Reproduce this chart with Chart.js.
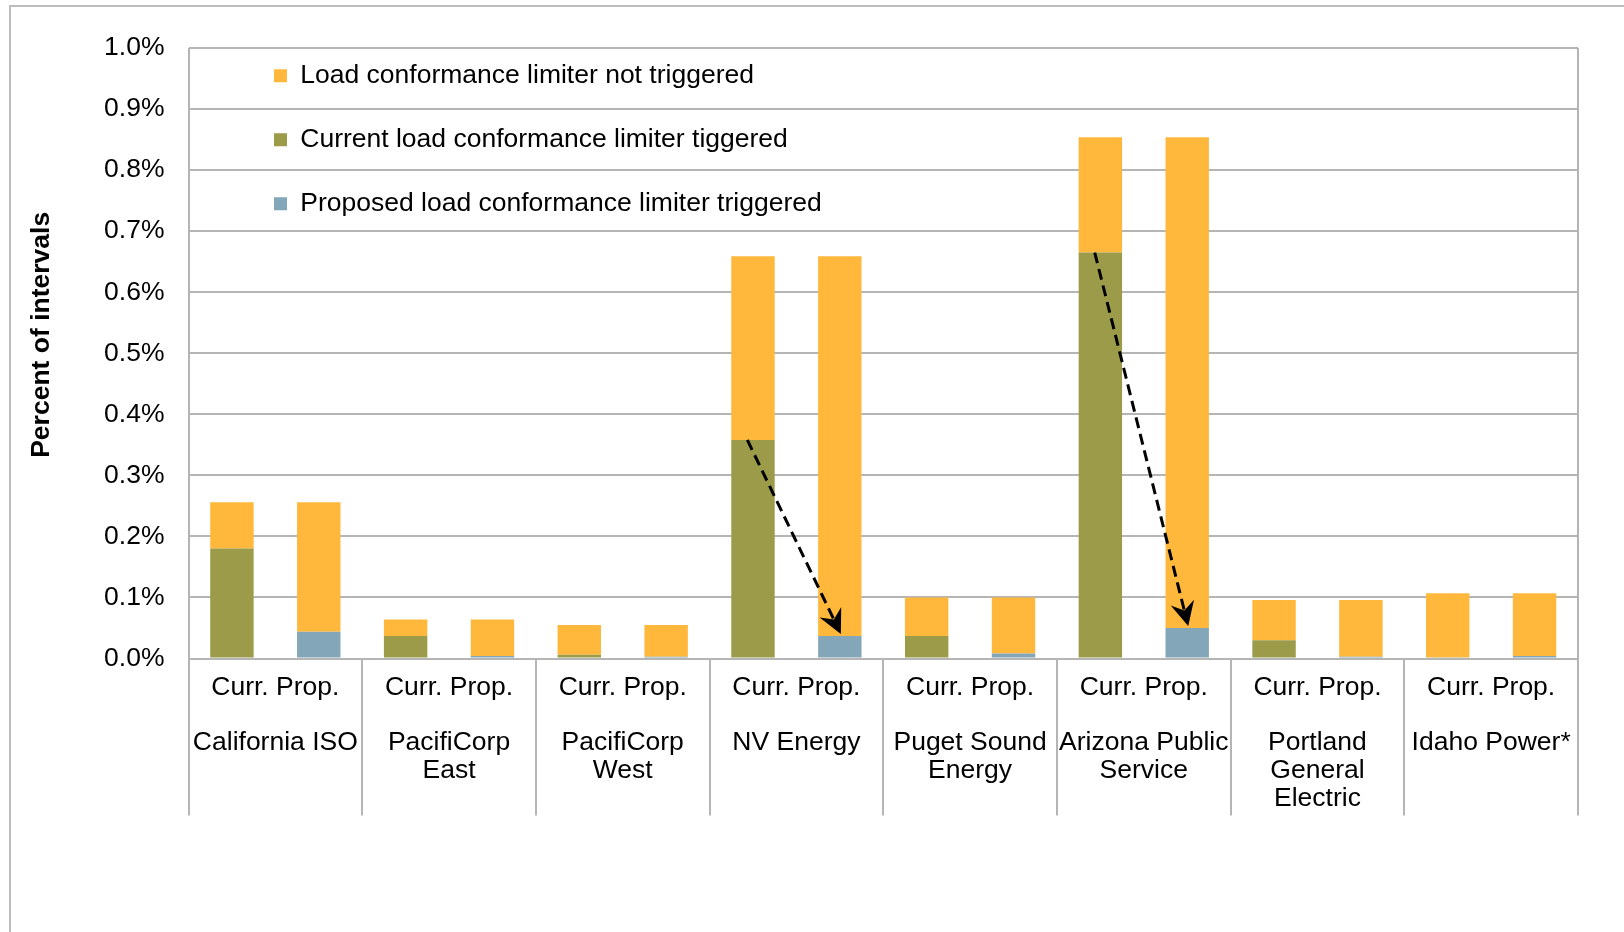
<!DOCTYPE html>
<html>
<head>
<meta charset="utf-8">
<script src="https://cdn.jsdelivr.net/npm/chart.js@4.4.1/dist/chart.umd.min.js"></script>
<style>
    html, body { margin: 0; padding: 0; background: #fff; }
    #frame { position: absolute; left: 9px; top: 5px; width: 1700px; height: 1000px; border-left: 2px solid #bdbdbd; border-top: 2px solid #bdbdbd; }
    #chart { position: absolute; left: 0; top: 0; }
</style>
</head>
<body>
<div id="frame"></div>
<canvas id="chart" width="1624" height="932"></canvas>
<script>
// ============================= data (percent of intervals)

const groupNames = [['California ISO'], ['PacifiCorp', 'East'], ['PacifiCorp', 'West'], ['NV Energy'],
    ['Puget Sound', 'Energy'], ['Arizona Public', 'Service'], ['Portland', 'General', 'Electric'], ['Idaho Power*']]
const pairLabel = 'Curr. Prop.'

const totals = [0.256, 0.064, 0.055, 0.659, 0.100, 0.854, 0.096, 0.107] // same height for both bars
const currTriggered = [0.180, 0.037, 0.006, 0.358, 0.037, 0.665, 0.030, 0.002]
const propTriggered = [0.044, 0.004, 0.003, 0.037, 0.008, 0.050, 0.003, 0.004]

const yMin = 0
const yMax = 1.0
const yStep = 0.1

const arrowGroups = [3, 5] // NV Energy, Arizona Public Service

const legendOrder = [1, 0, 2]

// ============================= styles

const ORANGE = '#FFB83C'
const GREEN = '#9C9B4A'
const BLUE = '#83A6B8'
const GRID = '#b5b5b5'

Chart.defaults.font.family = "'Liberation Sans', Arial, sans-serif"
Chart.defaults.color = '#000'

const notTriggered = (trig) => totals.map((t, i) => +(t - trig[i]).toFixed(3))

// ============================= plugins

const legendShift = { // moves the in-plot legend to where the original sits
    id: 'legendShift',
    afterLayout(chart) {
        chart.legend.left += 48
        chart.legend.top += 25
    }
}

const arrows = {
    id: 'arrows',
    afterDatasetsDraw(chart) {
        const ctx = chart.ctx
        const green = chart.getDatasetMeta(0).data
        const blue = chart.getDatasetMeta(2).data

        arrowGroups.forEach(i => {
            const x0 = green[i].x - green[i].width * 0.13, y0 = green[i].y
            const x1 = blue[i].x + 1, y1 = blue[i].y - 2
            const ang = Math.atan2(y1 - y0, x1 - x0)

            ctx.save()
            ctx.strokeStyle = '#000'
            ctx.lineWidth = 3
            ctx.setLineDash([11, 6])
            ctx.beginPath()
            ctx.moveTo(x0, y0)
            ctx.lineTo(x1 - 16 * Math.cos(ang), y1 - 16 * Math.sin(ang))
            ctx.stroke()

            ctx.setLineDash([])
            ctx.fillStyle = '#000'
            ctx.translate(x1, y1)
            ctx.rotate(ang)
            ctx.beginPath()
            ctx.moveTo(0, 0)
            ctx.lineTo(-24, -12)
            ctx.lineTo(-16, 0)
            ctx.lineTo(-24, 12)
            ctx.closePath()
            ctx.fill()
            ctx.restore()
        })
    }
}

// ============================= chart

new Chart(document.getElementById('chart'), {
    type: 'bar',
    data: {
        labels: groupNames.map(n => [pairLabel, '', ...n]),
        datasets: [
            { label: 'Current load conformance limiter tiggered', data: currTriggered, backgroundColor: GREEN, stack: 'curr' },
            { label: 'Load conformance limiter not triggered', data: notTriggered(currTriggered), backgroundColor: ORANGE, stack: 'curr' },
            { label: 'Proposed load conformance limiter triggered', data: propTriggered, backgroundColor: BLUE, stack: 'prop' },
            { label: 'Load conformance limiter not triggered', data: notTriggered(propTriggered), backgroundColor: ORANGE, stack: 'prop' }
        ]
    },
    options: {
        responsive: false,
        animation: false,
        categoryPercentage: 1.0,
        barPercentage: 0.5,
        borderWidth: 0,
        layout: { padding: { left: 10, top: 48, right: 46, bottom: 113.5 } },
        plugins: {
            tooltip: { enabled: false },
            legend: {
                position: 'chartArea',
                align: 'start',
                labels: {
                    boxWidth: 13,
                    boxHeight: 13,
                    padding: 37.5,
                    color: '#000',
                    font: { size: 26.5 },
                    filter: item => item.datasetIndex !== 3,
                    sort: (a, b) => legendOrder.indexOf(a.datasetIndex) - legendOrder.indexOf(b.datasetIndex)
                }
            }
        },
        scales: {
            x: {
                stacked: true,
                afterFit: scale => { scale.height = 160 }, // keep the label box tall enough for the long dividers
                grid: {
                    offset: true,
                    color: c => (c.type === 'tick' && c.index > 0) ? 'transparent' : GRID,
                    tickColor: GRID,
                    lineWidth: 2,
                    tickWidth: 2,
                    tickLength: 157
                },
                border: { display: true, color: GRID, width: 2 },
                ticks: {
                    color: '#000',
                    font: { size: 26.5, lineHeight: 1.05 },
                    padding: -142,
                    maxRotation: 0,
                    autoSkip: false
                }
            },
            y: {
                stacked: true,
                min: yMin,
                max: yMax,
                ticks: {
                    stepSize: yStep,
                    callback: v => v.toFixed(1) + '%',
                    color: '#000',
                    font: { size: 26.5 },
                    padding: 24
                },
                grid: { color: GRID, lineWidth: 2, drawTicks: false },
                border: { display: false },
                title: {
                    display: true,
                    text: '\u00a0\u00a0\u00a0\u00a0\u00a0Percent of intervals',
                    color: '#000',
                    font: { size: 26.5, weight: 'bold', lineHeight: 1.2 },
                    padding: { top: 15.5, bottom: 22.8 }
                }
            }
        }
    },
    plugins: [legendShift, arrows]
})
</script>
</body>
</html>
